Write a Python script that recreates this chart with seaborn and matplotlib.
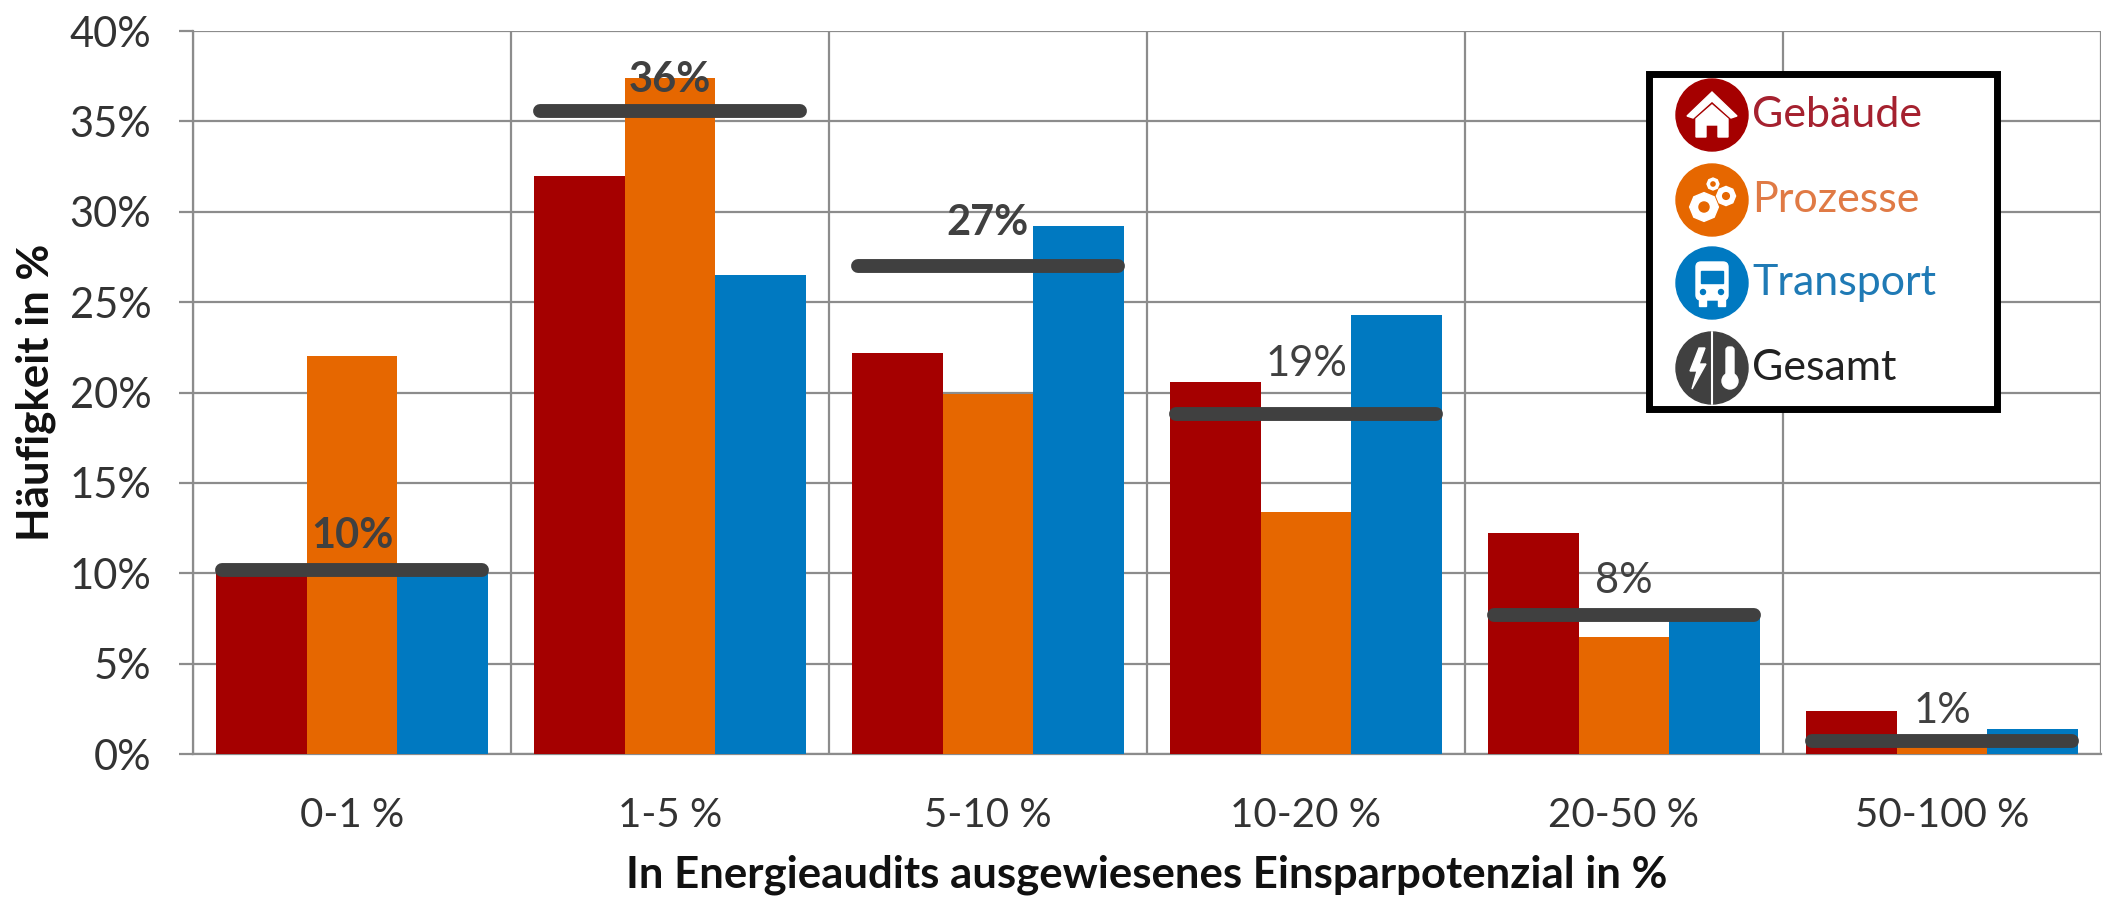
import matplotlib
matplotlib.use("Agg")
import matplotlib.pyplot as plt
import numpy as np
import pandas as pd
import seaborn as sns
from matplotlib.patches import Circle, Polygon, Rectangle, RegularPolygon, FancyBboxPatch

categories = ["0-1 %", "1-5 %", "5-10 %", "10-20 %", "20-50 %", "50-100 %"]
gebaeude = [10.0, 32.0, 22.2, 20.6, 12.2, 2.4]
prozesse = [22.0, 37.4, 19.9, 13.4, 6.5, 0.8]
transport = [10.0, 26.5, 29.2, 24.3, 7.8, 1.4]
gesamt = [10.2, 35.6, 27.0, 18.8, 7.7, 0.7]
gesamt_labels = ["10%", "36%", "27%", "19%", "8%", "1%"]
y_ticks = [0, 5, 10, 15, 20, 25, 30, 35, 40]

series_names = ["Gebäude", "Prozesse", "Transport"]
colors = ["#a50000", "#e66700", "#0079c1"]
dark = "#404040"
grid_col = "#8c8c8c"
text_col = "#333333"
label_offsets = [24, 22, 31, 36, 24, 22]


def draw_gears(ov, x, y):
    for cx, cy, r in [(x - 8, y + 7, 12), (x + 14, y - 4, 8), (x + 1, y - 16, 5)]:
        ov.add_patch(RegularPolygon((cx, cy), 8, radius=r * 1.2, color="white", zorder=6))
        ov.add_patch(Circle((cx, cy), r * 0.42, color="#e66700", zorder=7))


def draw_house(ov, x, y):
    ov.add_patch(Polygon([[x - 25, y + 1], [x, y - 23], [x + 25, y + 1], [x + 19, y + 3], [x, y - 14], [x - 19, y + 3]],
                         color="white", zorder=6))
    ov.add_patch(Polygon([[x - 16, y + 4], [x, y - 10], [x + 16, y + 4], [x + 16, y + 22], [x + 6, y + 22], [x + 6, y + 10],
                          [x - 6, y + 10], [x - 6, y + 22], [x - 16, y + 22]], color="white", zorder=6))


def draw_bus(ov, x, y):
    ov.add_patch(FancyBboxPatch((x - 15, y - 20), 30, 36, boxstyle="round,pad=1,rounding_size=5", color="white", zorder=6))
    ov.add_patch(Rectangle((x - 11, y - 12), 22, 12, color="#0079c1", zorder=7))
    ov.add_patch(Rectangle((x - 13, y + 16), 7, 7, color="white", zorder=6))
    ov.add_patch(Rectangle((x + 6, y + 16), 7, 7, color="white", zorder=6))
    ov.add_patch(Circle((x - 9, y + 9), 2.5, color="#0079c1", zorder=7))
    ov.add_patch(Circle((x + 9, y + 9), 2.5, color="#0079c1", zorder=7))


def draw_split(ov, x, y):
    ov.plot([x, x], [y - 36, y + 36], color="white", lw=1.5, zorder=6)
    ov.add_patch(Polygon([[x - 13, y - 20], [x - 22, y + 3], [x - 15, y + 3], [x - 20, y + 21], [x - 6, y - 4], [x - 13, y - 4], [x - 7, y - 20]],
                         color="white", zorder=6))
    ov.add_patch(FancyBboxPatch((x + 15, y - 20), 6, 28, boxstyle="round,pad=1,rounding_size=3", color="white", zorder=6))
    ov.add_patch(Circle((x + 18, y + 13), 8, color="white", zorder=6))


def main():
    sns.set_theme(style="white")
    plt.rcParams["font.family"] = ["Lato", "DejaVu Sans"]

    df = pd.DataFrame({
        "kategorie": categories * 3,
        "serie": np.repeat(series_names, len(categories)),
        "wert": gebaeude + prozesse + transport,
    })

    fig = plt.figure(figsize=(21.12, 9.05), dpi=100)
    ax = fig.add_axes([193 / 2112, 1 - 754 / 905, (2101 - 193) / 2112, (754 - 31) / 905])

    sns.barplot(data=df, x="kategorie", y="wert", hue="serie", order=categories, hue_order=series_names,
                palette=colors, width=0.858, gap=0, saturation=1, legend=False, ax=ax, zorder=3,
                linewidth=0, edgecolor="none")

    ax.set_xlim(-0.5, len(categories) - 0.5)
    ax.set_ylim(0, 40)
    ax.set_yticks(y_ticks)
    ax.set_yticklabels([f"{t}%" for t in y_ticks], fontsize=30, color=text_col)
    ax.set_xticks(range(len(categories)))
    ax.set_xticklabels(categories, fontsize=29, color=text_col)
    ax.set_xticks(np.arange(len(categories) + 1) - 0.5, minor=True)

    ax.grid(True, axis="y", which="major", color=grid_col, lw=1.6, zorder=0)
    ax.grid(True, axis="x", which="minor", color=grid_col, lw=1.6, zorder=0)
    ax.grid(False, axis="x", which="major")
    ax.set_axisbelow(True)
    ax.tick_params(axis="x", which="major", length=0, pad=31)
    ax.tick_params(axis="x", which="minor", length=10, width=1.6, color=grid_col)
    ax.tick_params(axis="y", which="major", length=10, width=1.6, color=grid_col, left=True, pad=20)
    for side in ax.spines:
        ax.spines[side].set_visible(side in ("left", "bottom"))
        ax.spines[side].set_color(grid_col)
        ax.spines[side].set_linewidth(1.6)

    x_pos = np.arange(len(categories))
    ax.hlines(gesamt, x_pos - 0.41, x_pos + 0.41, color=dark, lw=10, capstyle="round", zorder=5)
    for i, (val, lab, off) in enumerate(zip(gesamt, gesamt_labels, label_offsets)):
        ax.annotate(lab, (i, val), xytext=(0, off), textcoords="offset points", ha="center", va="center",
                    fontsize=30, color=dark, fontweight="bold" if i < 3 else "normal", zorder=6)

    ax.set_xlabel("In Energieaudits ausgewiesenes Einsparpotenzial in %", fontsize=31.5, fontweight="bold", color="#111111", labelpad=15)
    ax.set_ylabel("Häufigkeit in %", fontsize=31.5, fontweight="bold", color="#111111", labelpad=10)

    # legend with icons, drawn in pixel coordinates on top of everything
    ov = fig.add_axes([0, 0, 1, 1], facecolor="none")
    ov.set_xlim(0, 2112)
    ov.set_ylim(905, 0)
    ov.axis("off")
    ov.add_patch(Rectangle((1649, 74), 348, 335, facecolor="white", edgecolor="black", lw=5, zorder=2))
    legend_rows = [("Gebäude", "#a50000", "#a5212f", 115, draw_house),
                   ("Prozesse", "#e66700", "#e07a45", 200, draw_gears),
                   ("Transport", "#0079c1", "#1f7ab5", 283, draw_bus),
                   ("Gesamt", dark, "#222222", 368, draw_split)]
    for name, icon_col, txt_col, y, icon in legend_rows:
        ov.add_patch(Circle((1712, y), 36, color=icon_col, zorder=5))
        icon(ov, 1712, y)
        ov.text(1752, y, name, fontsize=31, color=txt_col, va="center", ha="left", zorder=6)

    fig.savefig("out.png", dpi=100, facecolor="white")
    plt.close(fig)


if __name__ == "__main__":
    main()
